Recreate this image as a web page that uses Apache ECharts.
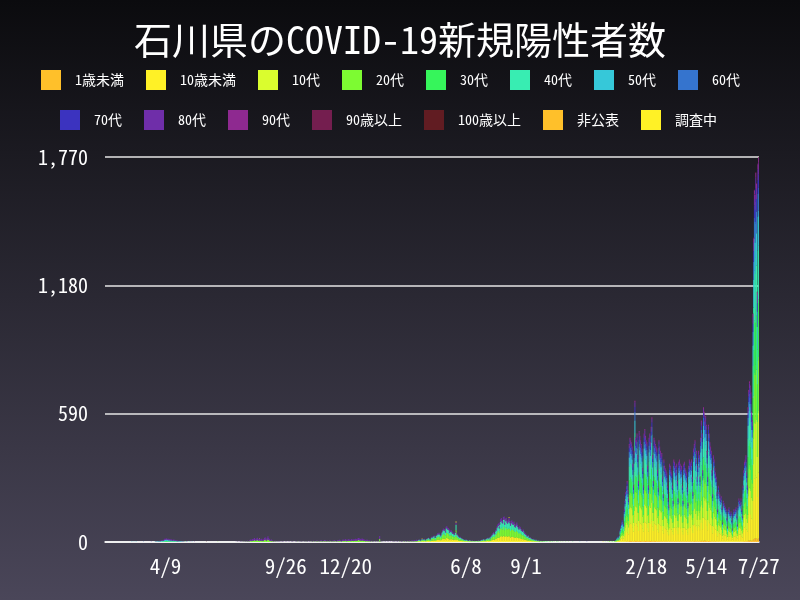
<!DOCTYPE html>
<html><head><meta charset="utf-8">
<script src="https://cdn.jsdelivr.net/npm/echarts@6/dist/echarts.min.js"></script>
<style>html,body{margin:0;padding:0;background:#000}#main{width:800px;height:600px}</style>
</head><body><div id="main"></div>
<script>
const firstDate = '2020-01-15';
const lastDate = '2022-07-27';
const tickDates = ['2020-04-09','2020-09-26','2020-12-20','2021-06-08','2021-09-01','2022-02-18','2022-05-14','2022-07-27'];
const seriesNames = ['1歳未満','10歳未満','10代','20代','30代','40代','50代','60代','70代','80代','90代','90歳以上','100歳以上','非公表','調査中'];
const seriesColors = ['#FFC02A','#FFF126','#DAFD2E','#7DFB32','#36F55B','#38EDB2','#36C8D9','#3574CE','#3B33BF','#6F2EA9','#8E2990','#741E4F','#611C22','#FFC02A','#FFF126'];

// daily counts, segments of [first day, values...]
const ageUnder1 = [
 ['2022-01-01',[0,0,0,0,0,0,0,0,0,0,0,1,1,1,1,1,1,2,2,2,3,3,2,2,5,5,5,5,4,4,3,
 4,7,5,5,5,4,3,5,5,5,5,4,3,3,5,5,5,5,5,4,3,5,5,5,5,6,4,3,
 5,5,5,4,4,3,3,5,4,4,4,4,3,2,4,4,3,3,3,3,2,2,4,4,3,3,3,2,4,4,4,
 3,4,3,2,4,4,4,3,4,3,2,4,4,3,3,3,3,2,4,4,4,4,4,3,2,4,5,5,4,4,
 3,4,4,4,3,5,6,5,3,6,6,6,6,5,4,3,5,5,5,4,4,3,2,4,4,3,3,3,2,2,3,
 2,2,2,2,2,1,2,2,2,2,2,1,1,2,2,1,1,1,1,1,1,2,1,2,2,1,1,2,2,2,
 2,2,2,1,3,3,4,4,4,3,3,6,7,7,7,7,6,6,11,14,16,16,17,17,12,17,18]]
];
const ageUnder10 = [
 ['2021-04-01',[2,3,3,2,1,3,4,3,3,4,3,2,4,4,5,5,4,4,3,6,6,6,7,8,6,5,8,9,10,10,
 11,9,8,9,11,14,16,15,15,13,18,18,17,16,15,12,13,14,13,11,11,10,9,12,23,10,9,8,7,6,6,
 5,5,4,4,3,3,2,3,3,2,2,1,2,2,1,1,2,1,1,1,1,1,1,1,1,2,1,1,2,3,
 2,3,4,3,2,3,4,5,5,4,6,4,6,8,9,10,11,10,11,14,15,18,20,21,18,23,26,28,25,24,29,
 29,23,27,28,25,24,26,28,25,21,24,25,23,22,24,20,19,21,23,20,18,16,18,17,15,14,13,15,12,11,10,
 9,8,7,8,6,5,6,5,4,4,3,4,3,2,3,2,2,1,2,1,1,1,1,1,0,1,1,0,0,0,
 0,0,0,0,1]],
 ['2022-01-01',[0,0,0,1,1,1,2,3,4,3,5,9,12,14,17,15,14,25,32,39,43,48,41,34,77,82,80,78,75,61,44,
 71,110,82,80,85,68,48,87,83,80,77,73,58,44,85,88,83,80,78,60,44,82,85,78,90,98,68,48,
 82,80,77,75,73,56,42,80,75,71,68,70,51,37,65,60,58,56,54,44,34,29,61,60,56,54,44,32,65,63,60,
 56,61,48,34,63,65,61,58,60,44,32,61,63,58,56,54,42,31,60,65,63,61,65,51,39,73,77,80,65,71,
 51,60,71,68,51,82,95,85,56,105,102,95,99,92,71,51,92,85,78,75,71,56,37,68,65,58,54,51,39,25,44,
 39,37,34,36,27,15,32,31,29,27,25,19,12,25,27,24,22,24,17,10,22,25,24,25,27,20,14,29,34,32,
 31,34,25,20,44,56,63,65,68,54,44,105,119,126,122,117,102,95,178,238,275,272,289,280,195,296,301]]
];
const age10s = [
 ['2022-01-01',[0,0,0,0,1,1,2,3,4,3,5,9,11,14,16,14,13,24,30,37,41,45,38,32,72,77,75,74,70,58,42,
 67,104,77,75,80,64,45,82,78,75,72,69,54,42,80,83,78,75,74,56,42,77,80,74,85,92,64,45,
 77,75,72,70,69,53,40,75,70,67,64,66,48,35,61,56,54,53,51,42,32,27,58,56,53,51,42,30,61,59,56,
 53,58,45,32,59,61,58,54,56,42,30,58,59,54,53,51,40,29,56,61,59,58,61,48,37,69,72,75,61,67,
 48,56,67,64,48,77,90,80,53,99,96,90,93,86,67,48,86,80,74,70,67,53,35,64,61,54,51,48,37,24,42,
 37,35,32,34,26,14,30,29,27,26,24,18,11,24,26,22,21,22,16,10,21,24,22,24,26,19,13,27,32,30,
 29,32,24,19,42,53,59,61,64,51,42,99,112,118,115,110,96,90,168,224,259,256,272,264,184,278,283]]
];
const age20s = [
 ['2020-06-22',[1]],
 ['2020-07-16',[0,0,0,0,1,0,0,0,1,1,0,1,2,1,1,2,
 2,1,3,2,1,4,5,6,4,7,5,7,9,6,6,8,10,7,5,8,6,5,7,6,4,7,9,11,8,6,10,
 13,9,7,5,4,6,3,3,2,2,3,1,1,2,1,1,1,0,1,0,1,1,0,0,1,0,0,1,0,0,
 0,1,0,0,1,1,0,0,1,0,1,1,2,1,0,1,1,2,1,1,0,2,1,1,2,2,1,1,0,1,1,
 2,1,2,3,2,1,1,2,3,3,2,2,1,3,4,3,2,2,3,4,4,3,2,3,2,2,3,3,2,2,
 3,2,3,4,3,2,2,3,4,4,5,3,3,2,4,5,5,4,6,7,4,4,5,6,6,5,4,7,6,5,5,
 6,6,7,7,5,8,9,8,7,7,6,8,7,6,6,5,4,4,5,4,3,3,4,2,2,3,2,1,2,1,1,
 1,1,2,1,2,14,3,1,1,0,1,0,0,1,0,0,0,1,0,0,0,0,0,1,0,1,1,0,
 1,0,1,1,0,2,1,1,2,1,1,2,3,1,1,2,2,3,1,3,2,2,3,4,2,3,4,3,4,5,4]],
 ['2021-04-01',[3,3,4,3,2,4,5,5,4,5,3,3,5,6,6,7,6,5,4,8,9,8,10,10,8,7,11,12,14,13,
 15,13,10,12,16,19,22,20,21,17,24,25,23,22,21,17,18,19,17,15,15,13,13,16,31,14,12,10,9,8,8,
 7,6,6,5,4,3,3,4,3,3,2,2,3,3,2,2,2,2,1,2,2,1,1,2,2,2,1,2,3,3,
 3,4,5,4,3,5,6,6,7,6,8,5,9,10,12,14,16,13,15,19,21,25,28,30,24,31,37,38,35,34,40,
 41,31,38,39,35,33,36,38,34,30,34,35,32,31,33,28,27,29,31,27,24,22,25,24,21,20,18,20,17,15,14,
 13,10,10,11,8,7,8,6,6,5,4,5,3,3,4,3,2,2,3,2,1,2,1,2,1,1,1,1,1,1,
 1,1,0,1,1,1,0,1,1,0,1,0,0,1,1,0,1,0,0,1,0,0,1,0,0,0,1,0,0,0,1]],
 ['2021-12-22',[1,0,0,1,0,1,2,1,0,1]],
 ['2022-01-01',[1,1,0,1,1,2,3,3,4,3,4,8,10,12,14,13,11,21,27,32,36,39,34,28,63,67,66,64,62,50,36,
 59,91,67,66,70,56,39,71,69,66,63,60,48,36,70,73,69,66,64,49,36,67,70,64,74,80,56,39,
 67,66,63,62,60,46,35,66,62,59,56,57,42,31,53,49,48,46,45,36,28,24,50,49,46,45,36,27,53,52,49,
 46,50,39,28,52,53,50,48,49,36,27,50,52,48,46,45,35,25,49,53,52,50,53,42,32,60,63,66,53,59,
 42,49,59,56,42,67,78,70,46,87,84,78,81,76,59,42,76,70,64,62,59,46,31,56,53,48,45,42,32,21,36,
 32,31,28,29,22,13,27,25,24,22,21,15,10,21,22,20,18,20,14,8,18,21,20,21,22,17,11,24,28,27,
 25,28,21,17,36,46,52,53,56,45,36,87,98,104,101,97,84,78,147,196,227,224,238,231,161,244,248]]
];
const age30s = [
 ['2020-03-25',[0,1,1,0,1,1,1,
 2,1,2,2,3,2,4,4,4,5,5,4,4,3,4,3,4,3,2,4,3,3,2,3,2,2,1,2,1,1,
 1,1,0,1,1,0,1,0,0,0,0,1,0,0,0,0,0,0,0,0]],
 ['2021-11-06',[1]],
 ['2022-01-01',[1,0,0,1,1,2,3,3,4,3,5,8,11,13,15,14,12,22,29,35,38,42,36,30,68,72,70,69,66,54,39,
 63,98,72,70,75,60,42,77,74,70,68,65,51,39,75,78,74,70,69,52,39,72,75,69,80,86,60,42,
 72,70,68,66,65,50,37,70,66,63,60,62,45,33,57,52,51,50,48,39,30,25,54,52,50,48,39,29,57,55,52,
 50,54,42,30,55,57,54,51,52,39,29,54,55,51,50,48,37,27,52,57,55,54,57,45,35,65,68,70,57,63,
 45,52,63,60,45,72,84,75,50,93,90,84,87,81,63,45,81,75,69,66,63,50,33,60,57,51,48,45,35,22,39,
 35,33,30,32,24,14,29,27,25,24,22,17,11,22,24,21,20,21,15,9,20,22,21,22,24,18,12,25,30,29,
 27,30,22,18,39,50,55,57,60,48,39,93,105,111,108,104,90,84,158,210,243,240,255,248,172,261,266]]
];
const age40s = [
 ['2021-04-01',[2,3,3,3,2,3,4,4,3,4,3,2,4,4,5,6,5,4,3,6,7,7,8,8,6,6,9,10,11,11,
 12,10,8,10,13,15,17,16,17,14,20,20,18,18,17,13,15,15,14,12,12,11,10,13,25,11,10,8,7,6,7,
 6,5,4,4,3,3,3,3,3,2,2,2,3,2,1,2,2,1,1,2,1,1,1,2,1,2,1,2,2,3,
 3,3,4,3,2,4,4,5,6,5,6,4,7,8,10,11,13,11,12,15,17,20,22,24,20,25,29,31,28,27,32,
 33,25,30,31,28,27,29,31,27,24,27,28,26,25,26,22,21,24,25,22,20,18,20,19,17,16,15,16,13,12,11,
 10,8,8,9,7,6,6,5,4,4,3,4,3,2,3,3,2,2,2,1,1,2,1,1,1,1,1,1,0,1,
 0,1,0,0,1,0,0,1,0,0,0,0,0,0,1]],
 ['2022-01-01',[0,0,0,0,1,1,2,3,3,3,4,8,10,12,14,13,11,21,27,32,36,39,34,28,63,67,66,64,62,50,36,
 59,91,67,66,70,56,39,71,69,66,63,60,48,36,70,73,69,66,64,49,36,67,70,64,74,80,56,39,
 67,66,63,62,60,46,35,66,62,59,56,57,42,31,53,49,48,46,45,36,28,24,50,49,46,45,36,27,53,52,49,
 46,50,39,28,52,53,50,48,49,36,27,50,52,48,46,45,35,25,49,53,52,50,53,42,32,60,63,66,53,59,
 42,49,59,56,42,67,78,70,46,87,84,78,81,76,59,42,76,70,64,62,59,46,31,56,53,48,45,42,32,21,36,
 32,31,28,29,22,13,27,25,24,22,21,15,10,21,22,20,18,20,14,8,18,21,20,21,22,17,11,24,28,27,
 25,28,21,17,36,46,52,53,56,45,36,87,98,104,101,97,84,78,147,196,227,224,238,231,161,244,248]]
];
const age50s = [
 ['2020-02-21',[1,0,1,0,0,1,0,1]],
 ['2020-03-25',[1,0,1,1,2,1,2,
 2,2,3,3,3,3,4,5,5,6,6,5,6,4,5,4,4,4,3,4,3,3,3,3,2,2,2,2,2,2,
 2,1,1,1,0,0,1,1,1,0,0,0,1,0,0,0,1,0,0,0]],
 ['2021-11-16',[1]],
 ['2022-01-01',[0,0,0,0,0,1,1,2,2,2,3,5,6,8,9,8,7,14,17,21,23,25,22,18,40,43,42,41,40,32,23,
 38,58,43,42,45,36,25,46,44,42,40,39,31,23,45,47,44,42,41,31,23,43,45,41,48,52,36,25,
 43,42,40,40,39,30,23,42,40,38,36,37,27,20,34,31,31,30,29,23,18,15,32,31,30,29,23,17,34,33,31,
 30,32,25,18,33,34,32,31,31,23,17,32,33,31,30,29,23,16,31,34,33,32,34,27,21,39,40,42,34,38,
 27,31,38,36,27,43,50,45,30,56,54,50,52,49,38,27,49,45,41,40,38,30,20,36,34,31,29,27,21,14,23,
 21,20,18,19,14,8,17,16,15,14,14,10,6,14,14,13,12,13,9,6,12,14,13,14,14,11,7,15,18,17,
 16,18,14,11,23,30,33,34,36,29,23,56,63,67,65,62,54,50,94,126,146,144,153,149,104,157,159]]
];
const age60s = [
 ['2020-03-09',[1]],
 ['2022-01-01',[0,0,0,0,0,0,1,1,2,1,2,3,4,5,6,5,5,9,11,14,15,17,14,12,27,29,28,28,26,22,16,
 25,39,29,28,30,24,17,31,29,28,27,26,20,16,30,31,29,28,28,21,16,29,30,28,32,35,24,17,
 29,28,27,26,26,20,15,28,26,25,24,25,18,13,23,21,20,20,19,16,12,10,22,21,20,19,16,11,23,22,21,
 20,22,17,12,22,23,22,20,21,16,11,22,22,20,20,19,15,11,21,23,22,22,23,18,14,26,27,28,23,25,
 18,21,25,24,18,29,34,30,20,37,36,34,35,32,25,18,32,30,28,26,25,20,13,24,23,20,19,18,14,9,16,
 14,13,12,13,10,5,11,11,10,10,9,7,4,9,10,8,8,8,6,4,8,9,8,9,10,7,5,10,12,11,
 11,12,9,7,16,20,22,23,24,19,16,37,42,44,43,41,36,34,63,84,97,96,102,99,69,104,106]]
];
const age70s = [
 ['2020-03-20',[1]],
 ['2021-11-26',[1]],
 ['2022-01-01',[0,0,0,0,0,0,1,1,1,0,1,2,2,3,4,3,3,5,7,8,9,10,8,7,16,17,16,16,15,13,9,
 15,23,17,16,18,14,10,18,17,16,16,15,12,9,18,18,17,16,16,12,9,17,18,16,19,20,14,10,
 17,16,16,15,15,12,9,16,15,15,14,14,11,8,13,12,12,12,11,9,7,6,13,12,12,11,9,7,13,13,12,
 12,13,10,7,13,13,13,12,12,9,7,13,13,12,12,11,9,6,12,13,13,13,13,11,8,15,16,16,13,15,
 11,12,15,14,11,17,20,18,12,22,21,20,20,19,15,11,19,18,16,15,15,12,8,14,13,12,11,11,8,5,9,
 8,8,7,7,6,3,7,6,6,6,5,4,2,5,6,5,5,5,4,2,5,5,5,5,6,4,3,6,7,7,
 6,7,5,4,9,12,13,13,14,11,9,22,25,26,25,24,21,20,37,49,57,56,60,58,40,61,62]]
];
const age80s = [
 ['2020-03-25',[0,1,1,1,1,1,2,
 2,2,3,2,3,3,4,6,5,6,5,4,5,5,5,4,5,3,3,4,3,4,3,3,2,3,2,2,1,2,
 1,1,1,1,1,1,0,0,1,1,0,0,0,0,1,0,0,0,0,1]],
 ['2020-07-16',[0,0,1,0,1,1,0,1,1,2,1,1,2,2,1,3,
 2,2,3,3,2,4,5,6,5,7,6,8,9,7,6,8,10,7,6,9,7,5,8,6,5,7,9,11,8,6,10,
 13,9,7,5,4,6,4,3,3,2,3,2,1,2,2,1,2,1,1,1,1,2,1,0,1,1,1,1,0,1,
 1,1,0,1,2,1,1,0,1,1,2,1,2,1,1,2,1,3,2,1,1,2,2,1,3,2,2,1,1,2,1,
 2,2,3,3,2,2,1,3,4,3,3,2,2,3,4,4,3,2,3,5,4,4,3,3,2,3,4,3,2,3,
 3,3,4,4,3,2,3,4,5,4,5,4,3,3,5,6,5,4,6,7,5,4,6,7,6,5,5,7,6,5,6,
 7,6,8,7,5,8,9,9,8,7,6,8,8,7,6,5,5,4,6,5,4,3,4,3,2,3,3,2,2,1,2,
 1,2,2,1,3,14,3,2,1,1,1,0,1,1,1,0,1,1,1,0,1,1,0,1,1,2,1,1,
 1,1,2,1,1,2,1,2,3,2,1,2,3,2,1,3,2,3,2,4,3,2,3,4,3,4,5,3,4,5,5]],
 ['2021-04-01',[1,1,2,1,1,1,1,1,2,2,1,1,1,2,2,2,2,1,2,2,3,3,3,4,2,2,4,4,5,4,
 4,4,4,3,5,7,7,7,7,6,8,9,8,8,7,6,6,7,6,6,4,4,4,5,11,5,3,4,3,2,3,
 2,2,2,1,2,1,1,2,1,1,1,1,1,1,1,1,1,1,1,1,1,0,1,1,1,1,1,1,1,1,
 1,2,1,1,1,1,2,2,2,2,2,2,3,4,3,5,5,4,4,7,7,9,10,10,8,11,13,13,12,11,14,
 14,11,13,14,12,11,13,13,12,10,11,12,11,10,11,10,9,10,11,9,8,8,9,8,7,6,6,7,6,6,5,
 4,4,3,4,3,2,2,2,2,1,2,2,1,1,2,1,1,1,1,1,1,1,0,1,0,0,1,0,0,0]],
 ['2022-01-01',[0,0,0,0,0,0,0,1,1,0,1,2,2,2,3,3,2,5,6,7,8,8,7,6,13,14,14,14,13,11,8,
 13,20,14,14,15,12,8,15,15,14,13,13,10,8,15,16,15,14,14,11,8,14,15,14,16,17,12,8,
 14,14,13,13,13,10,8,14,13,13,12,12,9,7,11,11,10,10,10,8,6,5,11,11,10,10,8,6,11,11,11,
 10,11,8,6,11,11,11,10,11,8,6,11,11,10,10,10,8,5,11,11,11,11,11,9,7,13,13,14,11,13,
 9,11,13,12,9,14,17,15,10,19,18,17,17,16,13,9,16,15,14,13,13,10,7,12,11,10,10,9,7,5,8,
 7,7,6,6,5,3,6,5,5,5,5,3,2,5,5,4,4,4,3,2,4,5,4,5,5,4,2,5,6,6,
 5,6,5,4,8,10,11,11,12,10,8,19,21,22,22,21,18,17,31,42,49,48,51,50,35,52,53]]
];
const age90s = [
 ['2022-01-01',[0,0,0,0,0,0,0,0,0,0,0,0,1,1,1,1,1,2,2,3,3,4,3,3,6,6,6,6,6,5,3,
 5,8,6,6,6,5,4,7,6,6,6,6,4,3,6,7,6,6,6,5,3,6,6,6,7,8,5,4,
 6,6,6,6,6,4,3,6,6,5,5,5,4,3,5,5,4,4,4,3,3,2,5,5,4,4,3,2,5,5,5,
 4,5,4,3,5,5,5,4,5,3,2,5,5,4,4,4,3,2,5,5,5,5,5,4,3,6,6,6,5,5,
 4,5,5,5,4,6,7,6,4,8,8,7,8,7,5,4,7,6,6,6,5,4,3,5,5,4,4,4,3,2,3,
 3,3,3,3,2,1,2,2,2,2,2,1,1,2,2,2,1,2,1,0,1,2,2,2,2,1,1,2,3,2,
 2,3,2,2,3,4,5,5,5,4,3,8,9,10,10,9,8,7,14,18,21,21,22,20,15,23,23]]
];
const age90plus = [
 ['2020-04-10',[1]],
 ['2020-08-25',[1]],
 ['2022-01-01',[0,0,0,0,0,0,0,0,0,0,0,0,0,0,0,0,0,0,0,0,0,0,1,0,0,1,2,1,1,0,1,
 1,1,1,2,1,1,0,0,1,2,0,0,1,1,1,1,1,2,1,0,1,1,1,1,0,1,1,0,
 1,2,0,1,0,0,0,2,1,1,1,1,0,0,1,0,1,0,1,1,0,1,0,0,0,1,1,0,1,1,0,
 0,0,0,0,1,1,0,1,0,1,0,0,1,1,0,1,0,1,0,1,1,0,1,0,0,0,0,2,1,1,
 0,0,1,1,0,1,1,1,0,1,1,1,1,1,1,0,1,1,1,1,1,0,0,1,1,1,1,0,0,0,1,
 0,0,0,0,0,0,0,1,1,0,0,0,0,0,0,0,0,0,0,0,0,0,0,0,0,0,0,1,0,0,
 1,0,0,0,1,0,1,1,1,1,1,1,1,1,1,1,1,1,2,3,3,3,3,3,2,3,3]]
];
const age100plus = [['2020-06-06',[1]]];
const undisclosed = [['2020-08-20',[1]], ['2021-04-07',[2]]];
const investigating = [['2020-05-07',[2]], ['2021-05-25',[4]], ['2021-08-08',[4]], ['2021-12-19',[2]]];

const seriesSegments = [ageUnder1, ageUnder10, age10s, age20s, age30s, age40s, age50s, age60s, age70s, age80s, age90s, age90plus, age100plus, undisclosed, investigating];

// build day categories
const dates = [];
const pad = n => (n < 10 ? '0' : '') + n;
{
  const [y0,m0,d0] = firstDate.split('-').map(Number);
  const [y1,m1,d1] = lastDate.split('-').map(Number);
  let t = Date.UTC(y0, m0-1, d0);
  const tEnd = Date.UTC(y1, m1-1, d1);
  while (t <= tEnd) {
    const d = new Date(t);
    dates.push(d.getUTCFullYear() + '-' + pad(d.getUTCMonth()+1) + '-' + pad(d.getUTCDate()));
    t += 86400000;
  }
}
const dateIndex = {};
dates.forEach((d, i) => { dateIndex[d] = i; });
function expand(segs) {
  const arr = new Array(dates.length).fill(0);
  segs.forEach(([start, vals]) => {
    const i0 = dateIndex[start];
    vals.forEach((v, k) => { if (i0 + k < arr.length) arr[i0 + k] = v; });
  });
  return arr;
}
const tickSet = new Set(tickDates);
const FONT = "'Noto Sans Mono CJK JP', 'DejaVu Sans Mono', 'Noto Sans CJK JP', monospace";

const chart = echarts.init(document.getElementById('main'), null, {renderer: 'canvas'});
const series = seriesNames.map((name, i) => ({
  name, type: 'bar', stack: 'total', barWidth: 1,
  itemStyle: { color: seriesColors[i] },
  emphasis: { disabled: true },
  data: expand(seriesSegments[i])
}));
const legendCommon = {
  icon: 'rect', itemWidth: 20, itemHeight: 20, itemGap: 22, padding: 0, selectedMode: false,
  textStyle: { color: '#ffffff', fontSize: 14, fontFamily: FONT, padding: [0,0,0,9] }
};
chart.setOption({
  animation: false,
  backgroundColor: new echarts.graphic.LinearGradient(0, 0, 0, 1, [
    { offset: 0, color: '#0b0b0e' }, { offset: 1, color: '#4a4659' }
  ]),
  title: {
    text: '石川県のCOVID-19新規陽性者数', left: 'center', top: 16,
    textStyle: { color: '#ffffff', fontSize: 38, fontWeight: 'normal', fontFamily: FONT }
  },
  legend: [
    Object.assign({ data: seriesNames.slice(0, 8), left: 41, top: 70 }, legendCommon),
    Object.assign({ data: seriesNames.slice(8), left: 60, top: 110 }, legendCommon)
  ],
  grid: { left: 105, right: 41, top: 157, bottom: 58 },
  xAxis: {
    type: 'category', data: dates, boundaryGap: true,
    axisLine: { lineStyle: { color: '#ffffff', width: 1.5 } },
    axisTick: { show: false },
    axisLabel: {
      interval: (idx, v) => tickSet.has(v),
      formatter: v => (+v.slice(5, 7)) + '/' + (+v.slice(8, 10)),
      color: '#ffffff', fontSize: 21, margin: 14, fontFamily: FONT
    }
  },
  yAxis: {
    type: 'value', min: 0, max: 1770, interval: 590,
    axisLine: { show: false }, axisTick: { show: false },
    axisLabel: { formatter: v => v.toLocaleString('en-US'), color: '#ffffff', fontSize: 20, margin: 17, fontFamily: FONT },
    splitLine: { lineStyle: { color: '#e6e6e6', width: 1.5 } }
  },
  series
});
</script></body></html>
